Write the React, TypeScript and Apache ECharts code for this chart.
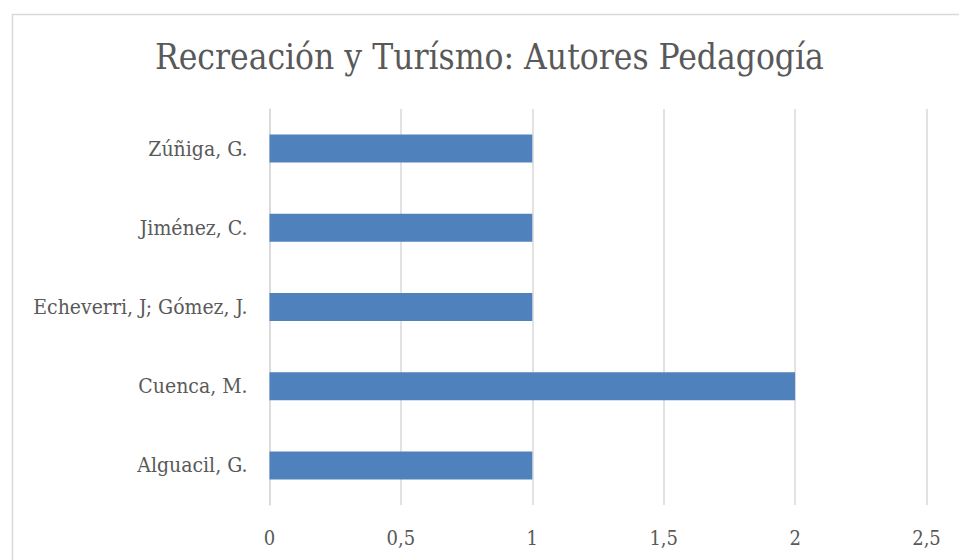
import React, { useEffect, useRef } from "react";
import * as echarts from "echarts";

const categories = ["Alguacil, G.", "Cuenca, M.", "Echeverri, J; Gómez, J.", "Jiménez, C.", "Zúñiga, G."];
const values = [1, 2, 1, 1, 1];
const titleText = "Recreación y Turísmo: Autores Pedagogía";

const FONT = "'DejaVu Serif Condensed', 'Liberation Serif', serif";

export default function App() {
  const ref = useRef<HTMLDivElement>(null);
  useEffect(() => {
    if (!ref.current) return;
    const chart = echarts.init(ref.current, undefined, { renderer: "svg" });
    chart.setOption({
      animation: false,
      backgroundColor: "#ffffff",
      title: {
        text: titleText,
        left: 155,
        top: 39,
        padding: 0,
        textStyle: { fontFamily: FONT, fontSize: 35, fontWeight: "normal", color: "#595959" },
      },
      graphic: [
        {
          type: "rect",
          left: 10,
          top: 12,
          shape: { width: 1000, height: 600 },
          style: { fill: "none", stroke: "#d9d9d9", lineWidth: 1.5 },
          silent: true,
          z: -1,
        },
      ],
      grid: { left: 269.5, right: 32.5, top: 109, bottom: 55, containLabel: false },
      xAxis: {
        type: "value",
        min: 0,
        max: 2.5,
        interval: 0.5,
        axisLine: { show: false },
        axisTick: { show: false },
        splitLine: { show: true, lineStyle: { color: "#d9d9d9", width: 1.5 } },
        axisLabel: {
          margin: 23,
          fontFamily: FONT,
          fontSize: 20,
          color: "#595959",
          formatter: (v: number) => String(v).replace(".", ","),
        },
      },
      yAxis: {
        type: "category",
        data: categories,
        axisLine: { show: true, lineStyle: { color: "#d9d9d9", width: 1.5 } },
        axisTick: { show: false },
        axisLabel: { margin: 22, fontFamily: FONT, fontSize: 21, color: "#595959" },
      },
      series: [
        {
          type: "bar",
          data: values,
          barWidth: 28,
          itemStyle: { color: "#4f81bd" },
        },
      ],
    });
    return () => chart.dispose();
  }, []);
  return <div ref={ref} style={{ position: "fixed", left: 0, top: 0, width: 959, height: 560 }} />;
}
